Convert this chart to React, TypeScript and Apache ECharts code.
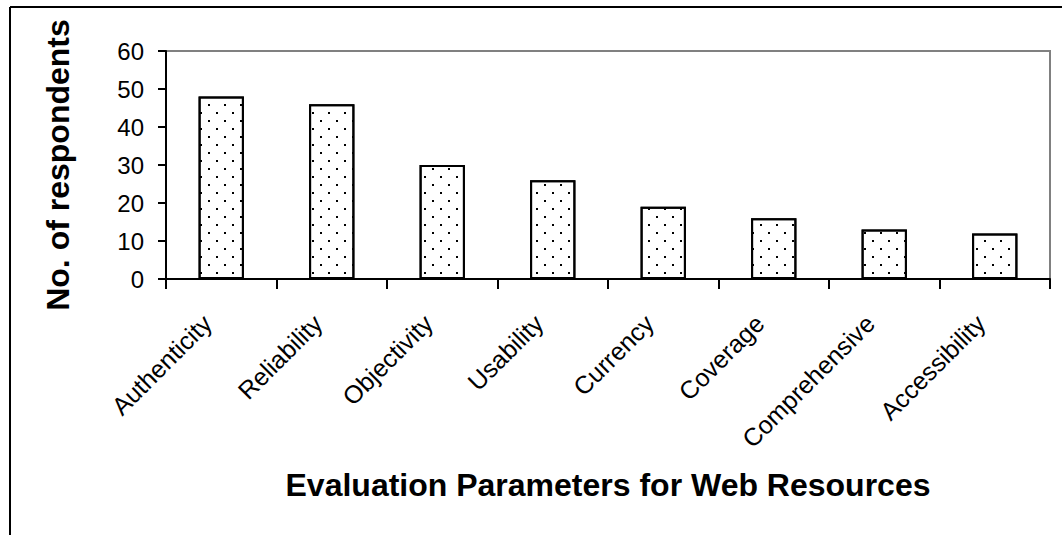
import React, { useEffect, useRef } from "react";
import * as echarts from "echarts";

const categories = [
  "Authenticity",
  "Reliability",
  "Objectivity",
  "Usability",
  "Currency",
  "Coverage",
  "Comprehensive",
  "Accessibility",
];
const respondents = [48, 46, 30, 26, 19, 16, 13, 12];
const yTicks = { min: 0, max: 60, interval: 10 };
const xTitle = "Evaluation Parameters for Web Resources";
const yTitle = "No. of respondents";

const FONT = "'Liberation Sans', Arial, sans-serif";

export default function App() {
  const ref = useRef<HTMLDivElement>(null);
  useEffect(() => {
    if (!ref.current) return;
    const chart = echarts.init(ref.current, undefined, { renderer: "svg" });
    chart.setOption({
      animation: false,
      backgroundColor: "#ffffff",
      grid: {
        left: 166,
        right: 12,
        top: 51,
        bottom: 256,
        show: true,
        borderColor: "#808080",
        borderWidth: 2,
        backgroundColor: "transparent",
      },
      graphic: [
        { type: "line", shape: { x1: 10, y1: 7, x2: 1062, y2: 7 }, style: { stroke: "#000", lineWidth: 2 } },
        { type: "line", shape: { x1: 10, y1: 7, x2: 10, y2: 535 }, style: { stroke: "#000", lineWidth: 2 } },
      ],
      xAxis: {
        type: "category",
        data: categories,
        boundaryGap: true,
        axisLine: { show: true, lineStyle: { color: "#000", width: 2 } },
        axisTick: { show: true, length: 10, lineStyle: { color: "#000", width: 2 } },
        axisLabel: {
          rotate: 45,
          margin: 26,
          padding: [0, 20, 0, 0],
          color: "#000",
          fontFamily: FONT,
          fontSize: 25,
          interval: 0,
        },
        name: xTitle,
        nameLocation: "middle",
        nameGap: 190,
        nameTextStyle: { color: "#000", fontFamily: FONT, fontSize: 32, fontWeight: "bold" },
        splitLine: { show: false },
      },
      yAxis: {
        type: "value",
        min: yTicks.min,
        max: yTicks.max,
        interval: yTicks.interval,
        axisLine: { show: true, lineStyle: { color: "#000", width: 2 } },
        axisTick: { show: true, length: 8, lineStyle: { color: "#000", width: 2 } },
        axisLabel: { color: "#000", fontFamily: FONT, fontSize: 24, margin: 22 },
        splitLine: { show: false },
        name: yTitle,
        nameLocation: "middle",
        nameRotate: 90,
        nameGap: 92,
        nameTextStyle: { color: "#000", fontFamily: FONT, fontSize: 32, fontWeight: "bold" },
      },
      series: [
        {
          type: "bar",
          data: respondents,
          barWidth: "41%",
          itemStyle: {
            color: "#ffffff",
            borderColor: "#000",
            borderWidth: 2,
            decal: {
              symbol: "rect",
              symbolSize: 1,
              color: "#000",
              backgroundColor: "#ffffff",
              dashArrayX: [
                [2, 14],
                [0, 8, 2, 6],
              ],
              dashArrayY: [2, 6],
              rotation: 0,
            },
          },
        },
      ],
    });
    return () => chart.dispose();
  }, []);
  return (
    <div
      ref={ref}
      style={{ position: "fixed", left: 0, top: 0, width: 1062, height: 535 }}
    />
  );
}
